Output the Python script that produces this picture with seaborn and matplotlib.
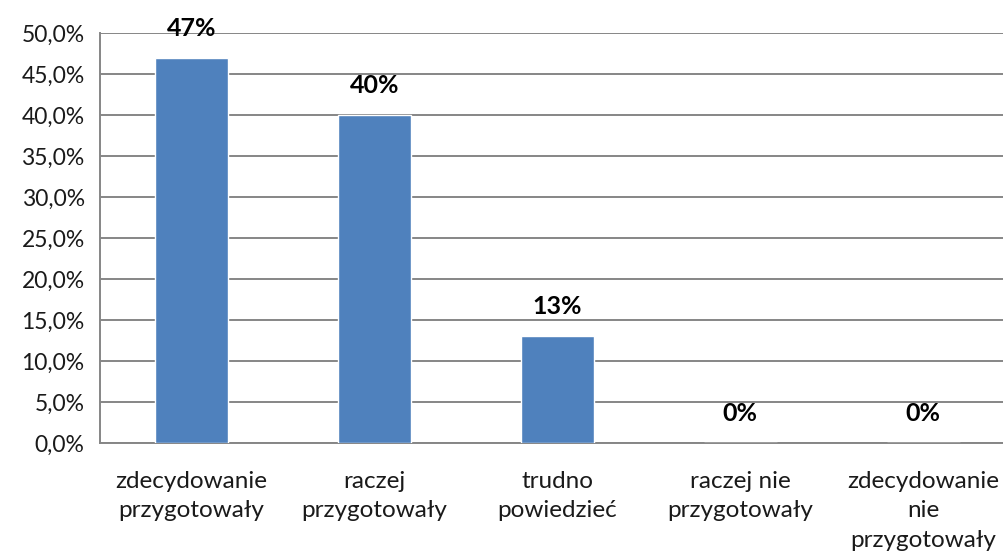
import matplotlib.pyplot as plt
import matplotlib.ticker as mticker
import seaborn as sns
import pandas as pd

# Chart data
categories = [
    "zdecydowanie\nprzygotowały",
    "raczej\nprzygotowały",
    "trudno\npowiedzieć",
    "raczej nie\nprzygotowały",
    "zdecydowanie\nnie\nprzygotowały",
]
shares = [0.47, 0.40, 0.13, 0.0, 0.0]
value_labels = ["47%", "40%", "13%", "0%", "0%"]

df = pd.DataFrame({"category": categories, "share": shares})

sns.set_style("white")
plt.rcParams["font.family"] = ["Lato", "DejaVu Sans"]

grid_color = "#868686"

fig = plt.figure(figsize=(10.04, 5.54), dpi=100)
ax = fig.add_axes([0.0996, 0.2004, 0.911, 0.740])

sns.barplot(data=df, x="category", y="share", color="#4F81BD",
            width=0.40, saturation=1, ax=ax, zorder=3)

ax.set_ylim(0, 0.5)
ax.set_xlim(-0.5, len(categories) - 0.5)
ax.yaxis.set_major_locator(mticker.MultipleLocator(0.05))
ax.yaxis.set_major_formatter(
    mticker.FuncFormatter(lambda v, p: f"{v * 100:.1f}%".replace(".", ","))
)
ax.grid(axis="y", color=grid_color, linewidth=1.4, zorder=0)
ax.set_axisbelow(True)

# Category boundary ticks on the x axis
ax.set_xticks([i - 0.5 for i in range(len(categories) + 1)], minor=True)
ax.tick_params(axis="x", which="major", length=0, pad=20, labelsize=17.5,
               labelcolor="#1a1a1a")
ax.tick_params(axis="x", which="minor", length=7, width=1.4, color=grid_color,
               direction="out")
ax.tick_params(axis="y", length=7, width=1.4, color=grid_color, direction="out",
               labelsize=16.5, labelcolor="#1a1a1a", pad=4)
for lbl in ax.get_xticklabels():
    lbl.set_linespacing(1.5)

ax.set_xlabel("")
ax.set_ylabel("")
for side in ["top", "right"]:
    ax.spines[side].set_visible(False)
for side in ["left", "bottom"]:
    ax.spines[side].set_color(grid_color)
    ax.spines[side].set_linewidth(1.4)

# Value labels above bars
for bar, txt in zip(ax.patches, value_labels):
    ax.annotate(txt, (bar.get_x() + bar.get_width() / 2, bar.get_height()),
                xytext=(0, 13), textcoords="offset points", ha="center",
                va="bottom", fontsize=18, fontweight="bold", color="black")

fig.savefig("out.png", dpi=100)
